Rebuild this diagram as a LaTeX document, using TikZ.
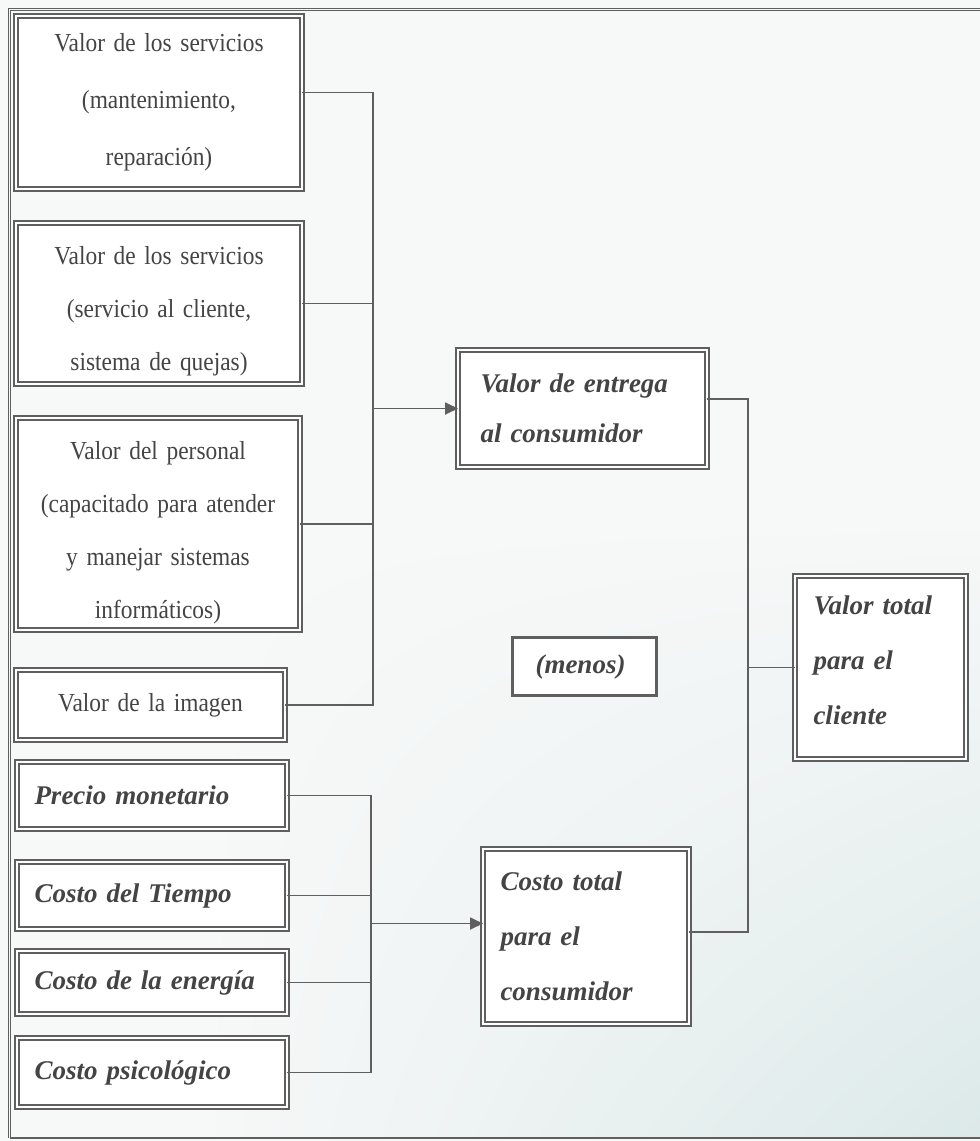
\documentclass[tikz,border=0pt]{standalone}
\usepackage{fontspec}
\setmainfont{Liberation Serif}
\newfontfamily\condserif[FakeStretch=0.9,WordSpace=0.8]{Liberation Serif}
\usetikzlibrary{arrows.meta,calc,shadings}
\definecolor{ink}{RGB}{95,95,95}
\definecolor{txt}{RGB}{68,68,68}
\definecolor{paper}{RGB}{247,248,248}
\definecolor{tint}{RGB}{220,233,233}
\begin{document}
\begin{tikzpicture}[x=1pt,y=1pt,
  dbox/.style={draw=ink, double=white, double distance=2pt, line width=2pt,
    fill=white, inner sep=0pt, outer sep=0pt, anchor=north west, text=txt},
  regtext/.style={font=\condserif\fontsize{26pt}{53pt}\selectfont, align=center},
  bitext/.style={font=\fontsize{27pt}{55pt}\selectfont\bfseries\itshape, align=left},
  sbox/.style={draw=ink, line width=3pt, fill=white, inner sep=0pt, outer sep=0pt,
    anchor=north west, text=txt, font=\fontsize{27pt}{32pt}\selectfont\bfseries\itshape},
  conn/.style={draw=ink, line width=1.8pt},
  arr/.style={conn, -{Triangle[length=13pt,width=12pt,fill=ink]}}
]
\useasboundingbox (0,0) rectangle (980,-1141);
\fill[paper] (0,0) rectangle (980,-1141);
\shade[upper left=paper, upper right=paper, lower left=paper, lower right=tint]
  (200,-520) rectangle (980,-1137);
% outer frame
\draw[ink, line width=1.2pt, double=paper, double distance=1.5pt] (980,-9.5) -- (9.5,-9.5) -- (9.5,-1138);
\draw[ink, line width=1.5pt] (9.5,-1138) -- (980,-1138);

% left value boxes
\node[dbox, regtext, minimum width=286pt, minimum height=173pt, text width=270pt,
  font=\condserif\fontsize{26pt}{57pt}\selectfont] (B1) at (16,-16)
  {Valor de los servicios\\(mantenimiento,\\reparación)};
\node[dbox, regtext, minimum width=286pt, minimum height=161pt, text width=270pt] (B2) at (16,-223)
  {\mbox{}\\[-19pt]Valor de los servicios\\(servicio al cliente,\\sistema de quejas)};
\node[dbox, regtext, minimum width=284pt, minimum height=212pt, text width=270pt] (B3) at (16,-418)
  {\mbox{}\\[-17pt]Valor del personal\\(capacitado para atender\\y manejar sistemas\\informáticos)};
\node[dbox, regtext, minimum width=269pt, minimum height=70pt, text width=255pt] (B4) at (16,-670)
  {Valor de la imagen};

% left cost boxes
\node[dbox, bitext, minimum width=270pt, minimum height=67pt, text width=235pt] (C1) at (17,-762)
  {Precio monetario};
\node[dbox, bitext, minimum width=270pt, minimum height=67pt, text width=235pt] (C2) at (17,-862)
  {Costo del Tiempo};
\node[dbox, bitext, minimum width=270pt, minimum height=63pt, text width=235pt] (C3) at (17,-951)
  {Costo de la energía};
\node[dbox, bitext, minimum width=270pt, minimum height=69pt, text width=235pt] (C4) at (17,-1038)
  {Costo psicológico};

% middle and right boxes
\node[dbox, bitext, font=\fontsize{27pt}{50pt}\selectfont\bfseries\itshape,
  minimum width=249pt, minimum height=117pt, text width=204pt] (VE) at (458,-350)
  {Valor de entrega\\al consumidor};
\node[dbox, bitext, minimum width=206pt, minimum height=175pt, text width=171pt] (CT) at (483,-849)
  {Costo total\\para el\\consumidor};
\node[dbox, bitext, minimum width=171pt, minimum height=183pt, text width=134pt] (VT) at (795,-576)
  {Valor total\\para el\\cliente\\[-41pt]\mbox{}};
\node[sbox, minimum width=144pt, minimum height=58pt] (M) at (512.5,-637.5) {(menos)\hspace*{8pt}};

% upper bus
\coordinate (ubus) at (373,0);
\draw[conn] ([yshift=10pt]B1.east) -- ([yshift=10pt]B1.east -| ubus) |- (B4.east);
\draw[conn] (B2.east) -- (B2.east -| ubus);
\draw[conn] (B3.east) -- (B3.east -| ubus);
\draw[arr] (VE.west -| ubus) -- (VE.west);

% lower bus
\coordinate (lbus) at (371,0);
\draw[conn] (C1.east) -- (C1.east -| lbus) |- (C4.east);
\draw[conn] (C2.east) -- (C2.east -| lbus);
\draw[conn] (C3.east) -- (C3.east -| lbus);
\draw[arr] ([yshift=13pt]CT.west -| lbus) -- ([yshift=13pt]CT.west);

% right bus
\coordinate (rbus) at (748,0);
\draw[conn] ([yshift=9.5pt]VE.east) -- ([yshift=9.5pt]VE.east -| rbus) |- ([yshift=4.5pt]CT.east);
\draw[conn] (VT.west -| rbus) -- (VT.west);
\end{tikzpicture}
\end{document}
